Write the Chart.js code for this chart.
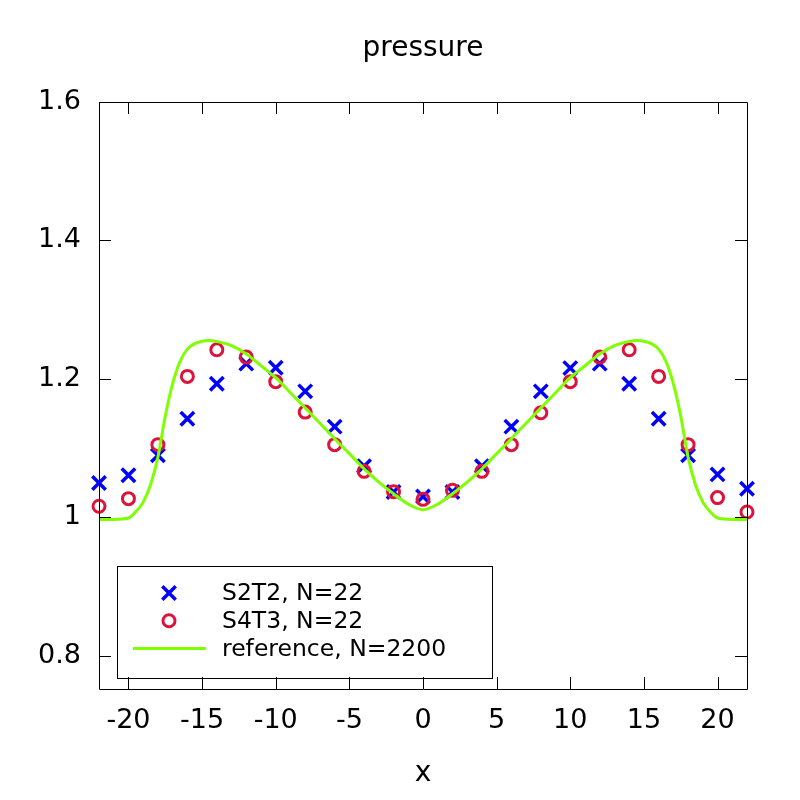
<!DOCTYPE html>
<html>
<head>
<meta charset="utf-8">
<script src="https://cdn.jsdelivr.net/npm/chart.js@4.4.1/dist/chart.umd.min.js"></script>
<style>body{margin:0;background:#fff}</style>
</head>
<body>
<canvas id="pressureChart" width="800" height="800"></canvas>
<script>
// sample positions of the two schemes
const xValues = [-22, -20, -18, -16, -14, -12, -10, -8, -6, -4, -2, 0, 2, 4, 6, 8, 10, 12, 14, 16, 18, 20, 22];
const s2t2Values = [1.0495, 1.0607, 1.0895, 1.1425, 1.193, 1.222, 1.216, 1.182, 1.131, 1.074, 1.0366, 1.030,
    1.0366, 1.074, 1.131, 1.182, 1.2156, 1.222, 1.193, 1.1425, 1.0895, 1.062, 1.0414];
const s4t3Values = [1.016, 1.027, 1.105, 1.2036, 1.242, 1.2315, 1.196, 1.152, 1.105, 1.0664, 1.037, 1.026,
    1.039, 1.0664, 1.105, 1.151, 1.196, 1.2315, 1.242, 1.2036, 1.105, 1.0285, 1.0077];

// reference curve
const refX = [-22, -21, -20, -19.5, -19, -18.5, -18, -17.5, -17, -16.5, -16, -15.5, -15, -14.5, -14, -13, -12, -11,
    -10, -9, -8, -7, -6, -5, -4, -3, -2, -1, 0, 1, 2, 3, 4, 5, 6, 7, 8, 9, 10, 11, 12, 13, 14, 14.5, 15, 15.5,
    16, 16.5, 17, 17.5, 18, 18.5, 19, 19.5, 20, 21, 22];
const refValues = [0.997, 0.997, 0.999, 1.008, 1.022, 1.047, 1.087, 1.146, 1.193, 1.225, 1.243, 1.251, 1.2545,
    1.2556, 1.254, 1.248, 1.236, 1.219, 1.2017, 1.180, 1.158, 1.136, 1.1136, 1.092, 1.070, 1.051, 1.034, 1.019,
    1.011, 1.019, 1.034, 1.051, 1.070, 1.092, 1.1136, 1.136, 1.158, 1.180, 1.2017, 1.219, 1.236, 1.248, 1.254,
    1.2556, 1.2545, 1.251, 1.243, 1.225, 1.193, 1.146, 1.087, 1.047, 1.022, 1.008, 0.999, 0.997, 0.997];

const xTicks = [-20, -15, -10, -5, 0, 5, 10, 15, 20];
const yTicks = [0.8, 1, 1.2, 1.4, 1.6];

const FONT = 'DejaVu Sans';
Chart.defaults.color = '#000';
Chart.defaults.font.family = FONT;

const toPoints = (xs, ys) => xs.map((x, i) => ({x: x, y: ys[i]}));

// gnuplot style frame with inward ticks on all four sides, plus the boxed key
const frameTicks = {
    id: 'frameTicks',
    afterDatasetsDraw(chart) {
        const ctx = chart.ctx;
        const a = chart.chartArea;
        const xs = chart.scales.x, ys = chart.scales.y;
        const len = 12;
        ctx.save();
        ctx.strokeStyle = '#000';
        ctx.lineWidth = 1;
        ctx.beginPath();
        ctx.rect(Math.round(a.left) + 0.5, Math.round(a.top) + 0.5, Math.round(a.right - a.left), Math.round(a.bottom - a.top));
        xs.ticks.forEach(t => {
            const px = Math.round(xs.getPixelForValue(t.value)) + 0.5;
            ctx.moveTo(px, a.bottom); ctx.lineTo(px, a.bottom - len);
            ctx.moveTo(px, a.top); ctx.lineTo(px, a.top + len);
        });
        ys.ticks.forEach(t => {
            const py = Math.round(ys.getPixelForValue(t.value)) + 0.5;
            ctx.moveTo(a.left, py); ctx.lineTo(a.left + len, py);
            ctx.moveTo(a.right, py); ctx.lineTo(a.right - len, py);
        });
        ctx.stroke();
        ctx.restore();
    },
    afterDraw(chart) {
        const ctx = chart.ctx;
        const box = {left: 117, top: 566, right: 492, bottom: 678};
        ctx.save();
        ctx.strokeStyle = '#000';
        ctx.lineWidth = 1;
        ctx.strokeRect(box.left + 0.5, box.top + 0.5, box.right - box.left, box.bottom - box.top);
        ctx.font = '23.5px "' + FONT + '"';
        ctx.textBaseline = 'middle';
        chart.data.datasets.forEach((ds, i) => {
            const rowY = 593 + i * 27.7;
            ctx.strokeStyle = ds.borderColor;
            ctx.lineWidth = ds.borderWidth;
            if (ds.showLine) {
                ctx.beginPath();
                ctx.moveTo(133, rowY); ctx.lineTo(206, rowY);
                ctx.stroke();
            } else {
                ctx.fillStyle = 'rgba(0,0,0,0)';
                Chart.helpers.drawPoint(ctx, {
                    pointStyle: ds.pointStyle, radius: ds.pointRadius, borderWidth: ds.borderWidth, rotation: 0
                }, 169, rowY);
            }
            ctx.fillStyle = '#000';
            ctx.fillText(ds.label, 222, rowY + 1);
        });
        ctx.restore();
    }
};

const ctx = document.getElementById('pressureChart').getContext('2d');
const chart = new Chart(ctx, {
    type: 'scatter',
    data: {
        datasets: [{
            label: 'S2T2, N=22',
            data: toPoints(xValues, s2t2Values),
            pointStyle: 'crossRot',
            pointRadius: 9.5,
            borderColor: '#0000ff',
            backgroundColor: '#0000ff',
            borderWidth: 3.5,
            showLine: false,
            clip: false,
            order: 3
        }, {
            label: 'S4T3, N=22',
            data: toPoints(xValues, s4t3Values),
            pointStyle: 'circle',
            pointRadius: 6,
            borderColor: '#dc143c',
            backgroundColor: 'rgba(0,0,0,0)',
            borderWidth: 3,
            showLine: false,
            clip: false,
            order: 2
        }, {
            label: 'reference, N=2200',
            data: toPoints(refX, refValues),
            showLine: true,
            pointRadius: 0,
            borderColor: '#7fff00',
            borderWidth: 3,
            cubicInterpolationMode: 'monotone',
            order: 1
        }]
    },
    options: {
        responsive: false,
        animation: false,
        devicePixelRatio: 1,
        layout: {padding: {left: 0, right: 53, top: 0, bottom: 0}},
        plugins: {
            legend: {display: false},
            tooltip: {enabled: false},
            title: {
                display: true,
                fullSize: false,
                text: 'pressure',
                font: {size: 28, weight: 'normal'},
                padding: {top: 32, bottom: 36.4}
            }
        },
        scales: {
            x: {
                type: 'linear',
                min: -22,
                max: 22,
                afterBuildTicks: scale => { scale.ticks = xTicks.map(v => ({value: v})); },
                afterFit: scale => { scale.height = 111; },
                grid: {display: false, drawTicks: false},
                border: {display: false},
                ticks: {font: {size: 27}, padding: 16, maxRotation: 0, callback: v => String(v)},
                title: {display: true, text: 'x', font: {size: 28}, padding: {top: 0, bottom: 9}}
            },
            y: {
                type: 'linear',
                min: 0.752,
                max: 1.6,
                afterBuildTicks: scale => { scale.ticks = yTicks.map(v => ({value: v})); },
                afterFit: scale => { scale.width = 99; },
                grid: {display: false, drawTicks: false},
                border: {display: false},
                ticks: {font: {size: 27}, padding: 18, callback: v => String(v)}
            }
        }
    },
    plugins: [frameTicks]
});
</script>
</body>
</html>
